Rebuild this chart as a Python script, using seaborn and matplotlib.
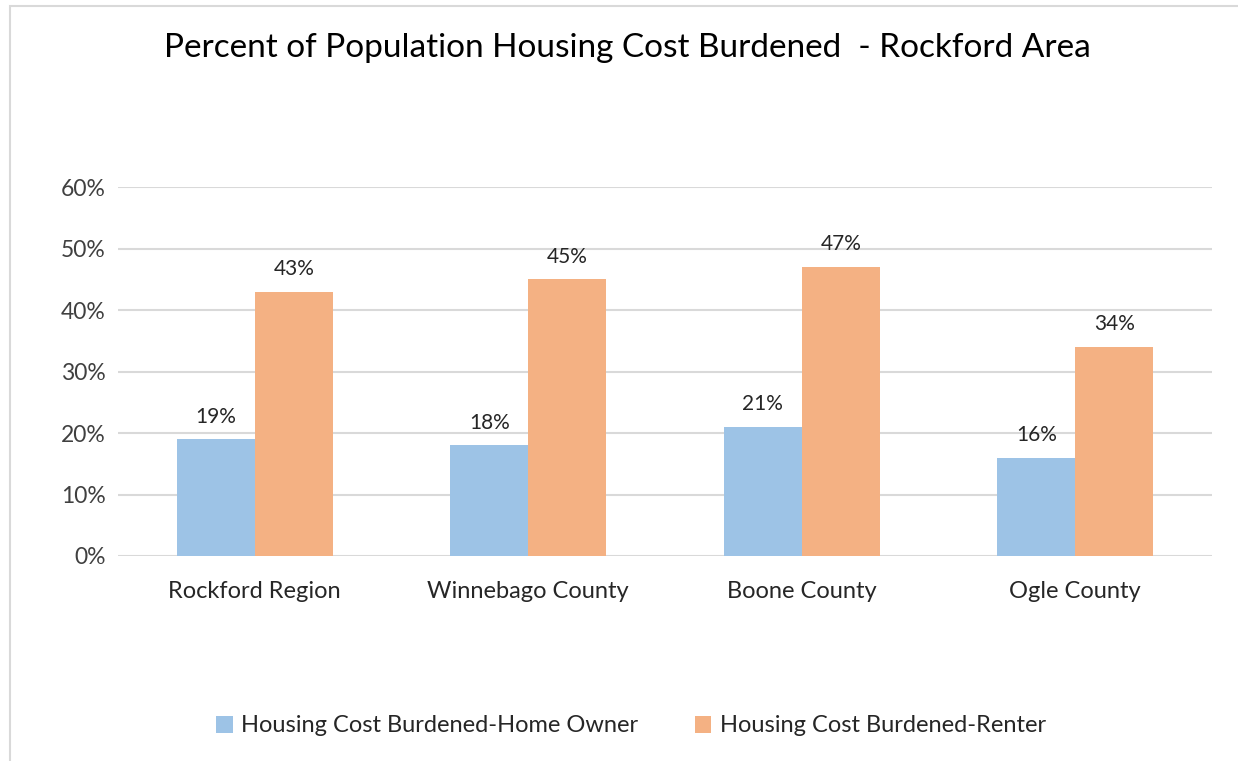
import matplotlib
matplotlib.use("Agg")
import matplotlib.pyplot as plt
import seaborn as sns
import pandas as pd
from matplotlib.patches import Rectangle
from matplotlib.ticker import PercentFormatter, MultipleLocator

# Share of households spending 30%+ of income on housing
areas = ["Rockford Region", "Winnebago County", "Boone County", "Ogle County"]
owner = [0.19, 0.18, 0.21, 0.16]
renter = [0.43, 0.45, 0.47, 0.34]
series_names = ["Housing Cost Burdened-Home Owner", "Housing Cost Burdened-Renter"]

df = pd.DataFrame({
    "area": areas * 2,
    "share": owner + renter,
    "series": [series_names[0]] * len(areas) + [series_names[1]] * len(areas),
})

sns.set_theme(style="white")
plt.rcParams["font.family"] = ["Lato", "DejaVu Sans"]

fig = plt.figure(figsize=(12.38, 7.61), dpi=100)
ax = fig.add_axes([118 / 1238, 1 - 556 / 761, (1212 - 118) / 1238, (556 - 187) / 761])

palette = {series_names[0]: "#9DC3E6", series_names[1]: "#F4B183"}
sns.barplot(data=df, x="area", y="share", hue="series", palette=palette,
            width=0.57, gap=0, saturation=1, linewidth=0, ax=ax,
            legend=True, zorder=3)

for cont in ax.containers:
    ax.bar_label(cont, labels=[f"{v:.0%}" for v in cont.datavalues],
                 padding=9, fontsize=15, color="#262626")

ax.set_ylim(0, 0.6)
ax.set_xlim(-0.5, 3.5)
ax.yaxis.set_major_locator(MultipleLocator(0.1))
ax.yaxis.set_major_formatter(PercentFormatter(1.0, decimals=0))
ax.grid(axis="y", color="#D9D9D9", linewidth=1.5, zorder=0)
ax.set_axisbelow(True)
for s in ax.spines.values():
    s.set_visible(False)
ax.set_xlabel("")
ax.set_ylabel("")
ax.tick_params(axis="y", labelsize=16.5, labelcolor="#404040", pad=9, length=0)
ax.tick_params(axis="x", labelsize=17, labelcolor="#262626", pad=18, length=0)

leg = ax.legend(loc="center",
                bbox_to_anchor=((631 - 118) / (1212 - 118), -(726 - 556) / (556 - 187)),
                ncol=2, frameon=False, fontsize=17, handlelength=0.7,
                handleheight=0.7, handletextpad=0.35, columnspacing=2.4,
                labelcolor="#262626")

fig.text(627 / 1238, 1 - 48 / 761,
         "Percent of Population Housing Cost Burdened  - Rockford Area",
         ha="center", va="center", fontsize=24, color="#000000")

# Light outer frame of the chart area
fig.patches.append(Rectangle((10 / 1238, -0.05), 1.1, 1 - 6 / 761 + 0.05,
                             transform=fig.transFigure, fill=False,
                             edgecolor="#D9D9D9", linewidth=1.5))

fig.savefig("out.png", dpi=100)
